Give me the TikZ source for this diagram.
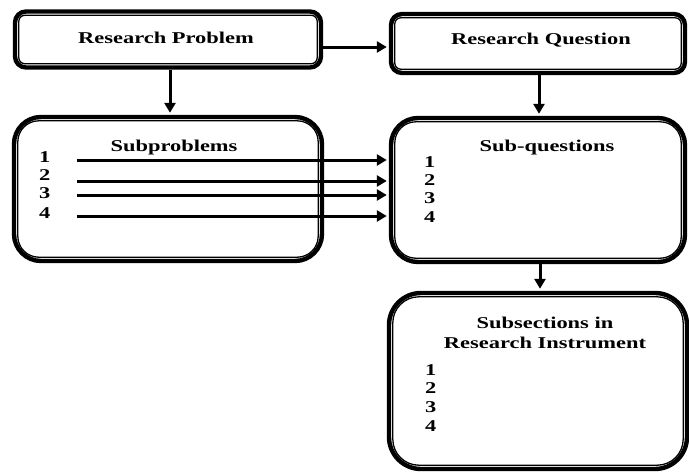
\documentclass[tikz,border=0pt]{standalone}
\usepackage{fontspec}
\setmainfont{Liberation Serif}[FakeStretch=1.36]
\usetikzlibrary{arrows.meta}
\newcommand\innerline[2]{\draw[line width=1.3pt, rounded corners=#2] ([xshift=6pt,yshift=-6pt]#1.north west) rectangle ([xshift=-6pt,yshift=6pt]#1.south east);}
\begin{document}
\begin{tikzpicture}[x=1pt,y=-1pt,
  box/.style={draw, line width=4.4pt, rounded corners=#1, inner sep=0pt},
  lbl/.style={font=\fontsize{16.5}{20}\selectfont\bfseries, inner sep=0pt},
  num/.style={font=\fontsize{16.5}{20}\selectfont\bfseries, inner sep=0pt, anchor=west},
  arr/.style={line width=3pt, -{Triangle[length=10pt,width=11pt]}}]
\useasboundingbox (0,0) rectangle (689,472);
% boxes
\node[box=11pt, minimum width=306pt, minimum height=56pt] (rp) at (168,39.5) {};
\node[box=11pt, minimum width=294pt, minimum height=59pt] (rq) at (538,43.5) {};
\node[box=27pt, minimum width=308pt, minimum height=144pt] (sp) at (168,189) {};
\node[box=27pt, minimum width=294pt, minimum height=144pt] (sq) at (538,190) {};
\node[box=32pt, minimum width=298pt, minimum height=176pt] (ss) at (538,381) {};
\innerline{rp}{6pt}
\innerline{rq}{6pt}
\innerline{sp}{21pt}
\innerline{sq}{21pt}
\innerline{ss}{26pt}
% texts
\node[lbl] (trp) at (166,38) {Research Problem};
\node[lbl] (trq) at (541,40) {Research Question};
\node[lbl] (tsp) at (174,148) {Subproblems};
\node[lbl] (tsq) at (547,148) {Sub-questions};
\node[lbl, align=center] (tss) at (545,333) {Subsections in\\Research Instrument};
\node[num] (p1) at (39,157) {1};
\node[num] (p2) at (39,175) {2};
\node[num] (p3) at (39,193) {3};
\node[num] (p4) at (39,213) {4};
\node[num] (q1) at (424,162) {1};
\node[num] (q2) at (424,180) {2};
\node[num] (q3) at (424,198) {3};
\node[num] (q4) at (424,217) {4};
\node[num] (s1) at (425,370) {1};
\node[num] (s2) at (425,388) {2};
\node[num] (s3) at (425,407) {3};
\node[num] (s4) at (425,426) {4};
% connectors
\coordinate (a1) at (77,160);
\coordinate (a2) at (77,181);
\coordinate (a3) at (77,195);
\coordinate (a4) at (77,216);
\draw[arr] (a1) -- ([xshift=-2pt]sq.west |- a1);
\draw[arr] (a2) -- ([xshift=-2pt]sq.west |- a2);
\draw[arr] (a3) -- ([xshift=-2pt]sq.west |- a3);
\draw[arr] (a4) -- ([xshift=-2pt]sq.west |- a4);
\coordinate (h) at (323,47);
\draw[arr] (h) -- ([xshift=-2pt]rq.west |- h);
\draw[arr] ([xshift=2pt]rp.south) -- ([xshift=2pt,yshift=2pt]sp.north);
\draw[arr] ([xshift=1pt]rq.south) -- ([xshift=1pt,yshift=2pt]sq.north);
\draw[arr] ([xshift=2pt]sq.south) -- ([xshift=2pt,yshift=2pt]ss.north);
\end{tikzpicture}
\end{document}
